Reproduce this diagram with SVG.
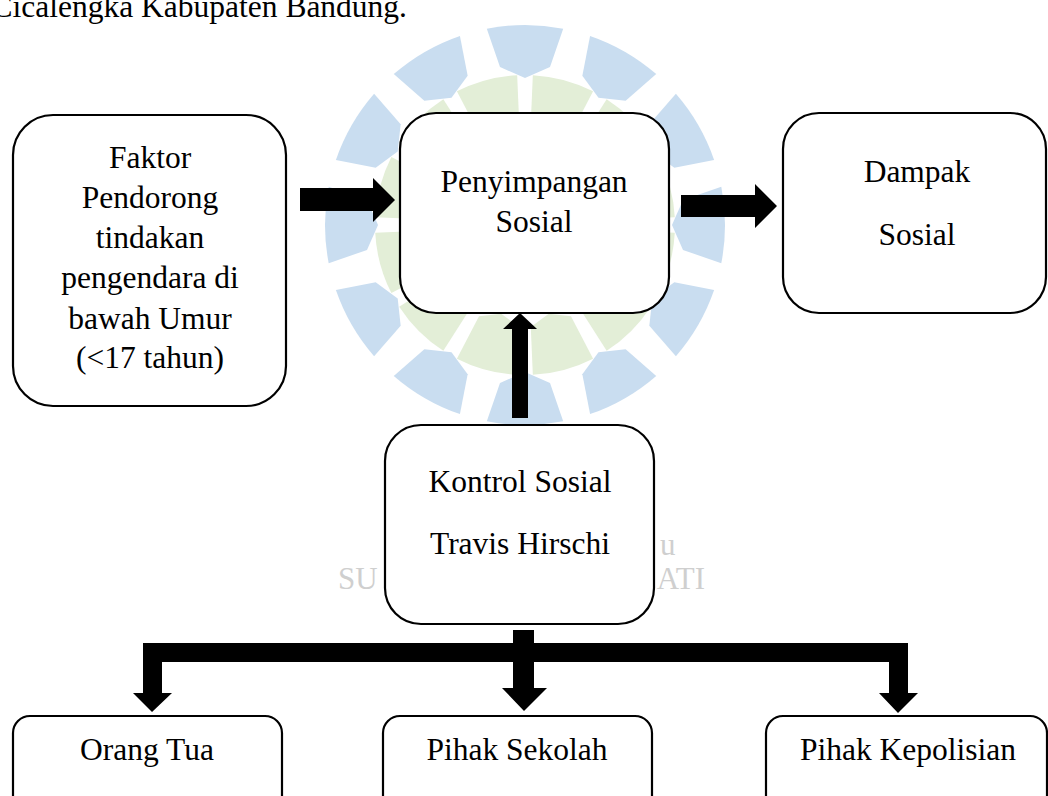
<svg xmlns="http://www.w3.org/2000/svg" xmlns:xlink="http://www.w3.org/1999/xlink" width="1048" height="796" viewBox="0 0 1048 796">
<style>
.box{fill:#ffffff;stroke:#000000;stroke-width:2.2}
.t{font-family:"Liberation Serif","Times New Roman",serif;font-size:31.5px;fill:#000000;text-anchor:middle}
.wm{font-family:"Liberation Serif","Times New Roman",serif;font-size:31px;fill:#cfcfcf}
.arr{fill:#000000;stroke:none}
</style>
<defs>
<path id="bpetal" d="M-38.2,-196.3 A200,200 0 0 1 38.2,-196.3 L25,-158 L0,-147 L-25,-158 Z" fill="#c9ddf0"/>
<path id="gpetal" d="M-31.2,-146.7 A150,150 0 0 1 31.2,-146.7 L20.8,-100 L0,-92 L-20.8,-100 Z" fill="#e3eed7"/>
</defs>
<rect x="0" y="0" width="1048" height="796" fill="#ffffff"/>
<g id="watermark" transform="translate(525,225)">
<use xlink:href="#gpetal" transform="rotate(15)"/>
<use xlink:href="#gpetal" transform="rotate(45)"/>
<use xlink:href="#gpetal" transform="rotate(75)"/>
<use xlink:href="#gpetal" transform="rotate(105)"/>
<use xlink:href="#gpetal" transform="rotate(135)"/>
<use xlink:href="#gpetal" transform="rotate(165)"/>
<use xlink:href="#gpetal" transform="rotate(195)"/>
<use xlink:href="#gpetal" transform="rotate(225)"/>
<use xlink:href="#gpetal" transform="rotate(255)"/>
<use xlink:href="#gpetal" transform="rotate(285)"/>
<use xlink:href="#gpetal" transform="rotate(315)"/>
<use xlink:href="#gpetal" transform="rotate(345)"/>
<use xlink:href="#bpetal" transform="rotate(0)"/>
<use xlink:href="#bpetal" transform="rotate(30)"/>
<use xlink:href="#bpetal" transform="rotate(60)"/>
<use xlink:href="#bpetal" transform="rotate(90)"/>
<use xlink:href="#bpetal" transform="rotate(120)"/>
<use xlink:href="#bpetal" transform="rotate(150)"/>
<use xlink:href="#bpetal" transform="rotate(180)"/>
<use xlink:href="#bpetal" transform="rotate(210)"/>
<use xlink:href="#bpetal" transform="rotate(240)"/>
<use xlink:href="#bpetal" transform="rotate(270)"/>
<use xlink:href="#bpetal" transform="rotate(300)"/>
<use xlink:href="#bpetal" transform="rotate(330)"/>
</g>
<text class="wm" x="338" y="589">SU</text>
<text class="wm" x="705" y="589" text-anchor="end">ATI</text>
<text class="wm" x="660" y="555" font-size="16">u</text>
<text class="t" x="407" y="17" style="text-anchor:end">Cicalengka Kabupaten Bandung.</text>
<g id="connectors">
<polygon class="arr" points="300,188 373,188 373,178 395,200 373,222 373,211 300,211"/>
<polygon class="arr" points="681,195 755,195 755,184 777,206 755,228 755,217 681,217"/>
<polygon class="arr" points="512,418 512,329 503,329 520,313 537,329 528,329 528,418"/>
<path class="arr" d="M513,630 H534 V643 H908 V693 H918 L898,713 L879,693 H889 V662 H534 V688 H547 L524,711 L502,688 H513 V662 H162 V693 H172 L152,712 L133,693 H143 V643 H513 Z"/>
</g>
<g id="node-faktor">
<rect class="box" x="13" y="115" width="273" height="291" rx="40" ry="40"/>
<text class="t" x="150" y="168">Faktor</text>
<text class="t" x="150" y="208">Pendorong</text>
<text class="t" x="150" y="248">tindakan</text>
<text class="t" x="150" y="288">pengendara di</text>
<text class="t" x="150" y="329">bawah Umur</text>
<text class="t" x="150" y="368">(&lt;17 tahun)</text>
</g>
<g id="node-penyimpangan">
<rect class="box" x="400" y="113" width="269" height="200" rx="36" ry="36"/>
<text class="t" x="534" y="192">Penyimpangan</text>
<text class="t" x="534" y="232">Sosial</text>
</g>
<g id="node-dampak">
<rect class="box" x="783" y="113" width="263" height="200" rx="36" ry="36"/>
<text class="t" x="917" y="182">Dampak</text>
<text class="t" x="917" y="245">Sosial</text>
</g>
<g id="node-kontrol">
<rect class="box" x="385" y="425" width="269" height="199" rx="36" ry="36"/>
<text class="t" x="520" y="492">Kontrol Sosial</text>
<text class="t" x="520" y="554">Travis Hirschi</text>
</g>
<g id="node-orangtua">
<rect class="box" x="13" y="716" width="269" height="110" rx="17" ry="17"/>
<text class="t" x="147" y="760">Orang Tua</text>
</g>
<g id="node-sekolah">
<rect class="box" x="383" y="716" width="269" height="110" rx="17" ry="17"/>
<text class="t" x="517" y="760">Pihak Sekolah</text>
</g>
<g id="node-kepolisian">
<rect class="box" x="766" y="716" width="281" height="110" rx="17" ry="17"/>
<text class="t" x="908" y="760">Pihak Kepolisian</text>
</g>
</svg>
